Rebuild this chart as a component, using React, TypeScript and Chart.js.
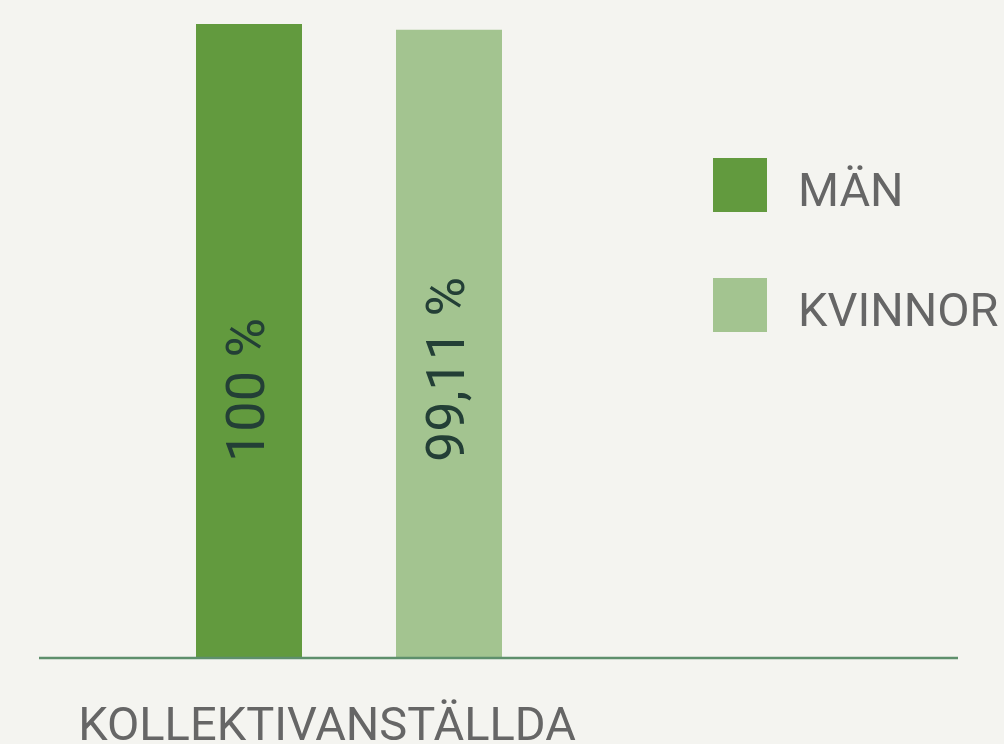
import React, { useEffect, useRef } from "react";
import { Chart, registerables } from "chart.js";

Chart.register(...registerables);

const categories = ["KOLLEKTIVANSTÄLLDA"];
const seriesNames = ["MÄN", "KVINNOR"];
const menValues = [100];
const womenValues = [99.11];
const valueLabels = ["100 %", "99,11 %"];
const seriesColors = ["#629a3e", "#a3c490"];

const FONT = "Roboto, 'Noto Sans', sans-serif";

const customPlugin = {
  id: "custom",
  beforeDraw(chart: any) {
    const { ctx } = chart;
    ctx.save();
    ctx.fillStyle = "#f4f4f0";
    ctx.fillRect(0, 0, chart.width, chart.height);
    ctx.restore();
  },
  afterDatasetsDraw(chart: any) {
    const { ctx, chartArea } = chart;
    const y0 = chart.scales.y.getPixelForValue(0);
    // value labels
    chart.data.datasets.forEach((ds: any, i: number) => {
      const meta = chart.getDatasetMeta(i);
      meta.data.forEach((bar: any) => {
        ctx.save();
        ctx.translate(bar.x + 1, y0 - 195);
        ctx.rotate(-Math.PI / 2);
        ctx.font = `400 54px ${FONT}`;
        ctx.fillStyle = "#233f36";
        ctx.textAlign = "left";
        ctx.textBaseline = "middle";
        ctx.fillText(valueLabels[i], 0, 0);
        ctx.restore();
      });
    });
    // baseline
    ctx.save();
    ctx.strokeStyle = "#5e8f6c";
    ctx.lineWidth = 2.5;
    ctx.beginPath();
    ctx.moveTo(chartArea.left - 1, y0 + 1);
    ctx.lineTo(958, y0 + 1);
    ctx.stroke();
    ctx.restore();
    // legend
    chart.data.datasets.forEach((ds: any, i: number) => {
      const top = 158 + i * 120;
      ctx.save();
      ctx.fillStyle = ds.backgroundColor;
      ctx.fillRect(713, top, 54, 54);
      ctx.font = `400 47px ${FONT}`;
      ctx.fillStyle = "#666666";
      ctx.textAlign = "left";
      ctx.textBaseline = "alphabetic";
      ctx.fillText(ds.label, 798, top + 48);
      ctx.restore();
    });
  },
};

export default function App() {
  const ref = useRef<HTMLCanvasElement>(null);
  useEffect(() => {
    if (!ref.current) return;
    const chart = new Chart(ref.current, {
      type: "bar",
      data: {
        labels: categories,
        datasets: [
          { label: seriesNames[0], data: menValues, backgroundColor: seriesColors[0] },
          { label: seriesNames[1], data: womenValues, backgroundColor: seriesColors[1] },
        ],
      },
      options: {
        animation: false,
        responsive: false,
        devicePixelRatio: 1,
        layout: { padding: { left: 40, right: 346, top: 24, bottom: 0 } },
        datasets: { bar: { categoryPercentage: 400 / 618, barPercentage: 0.53 } } as any,
        plugins: { legend: { display: false }, tooltip: { enabled: false } },
        scales: {
          x: {
            grid: { display: false, drawTicks: false, tickLength: 0 },
            border: { display: false },
            ticks: {
              color: "#666666",
              font: { family: FONT, size: 47, lineHeight: 1.2 },
              padding: 43,
              labelOffset: -22,
              maxRotation: 0,
            },
            afterFit(scale: any) {
              scale.height = 87;
            },
          },
          y: { display: false, min: 0, max: 100 },
        },
      },
      plugins: [customPlugin],
    });
    return () => chart.destroy();
  }, []);
  return (
    <div style={{ position: "fixed", left: 0, top: 0, width: 1004, height: 744, background: "#f4f4f0" }}>
      <canvas ref={ref} width={1004} height={744} style={{ display: "block" }} />
    </div>
  );
}
